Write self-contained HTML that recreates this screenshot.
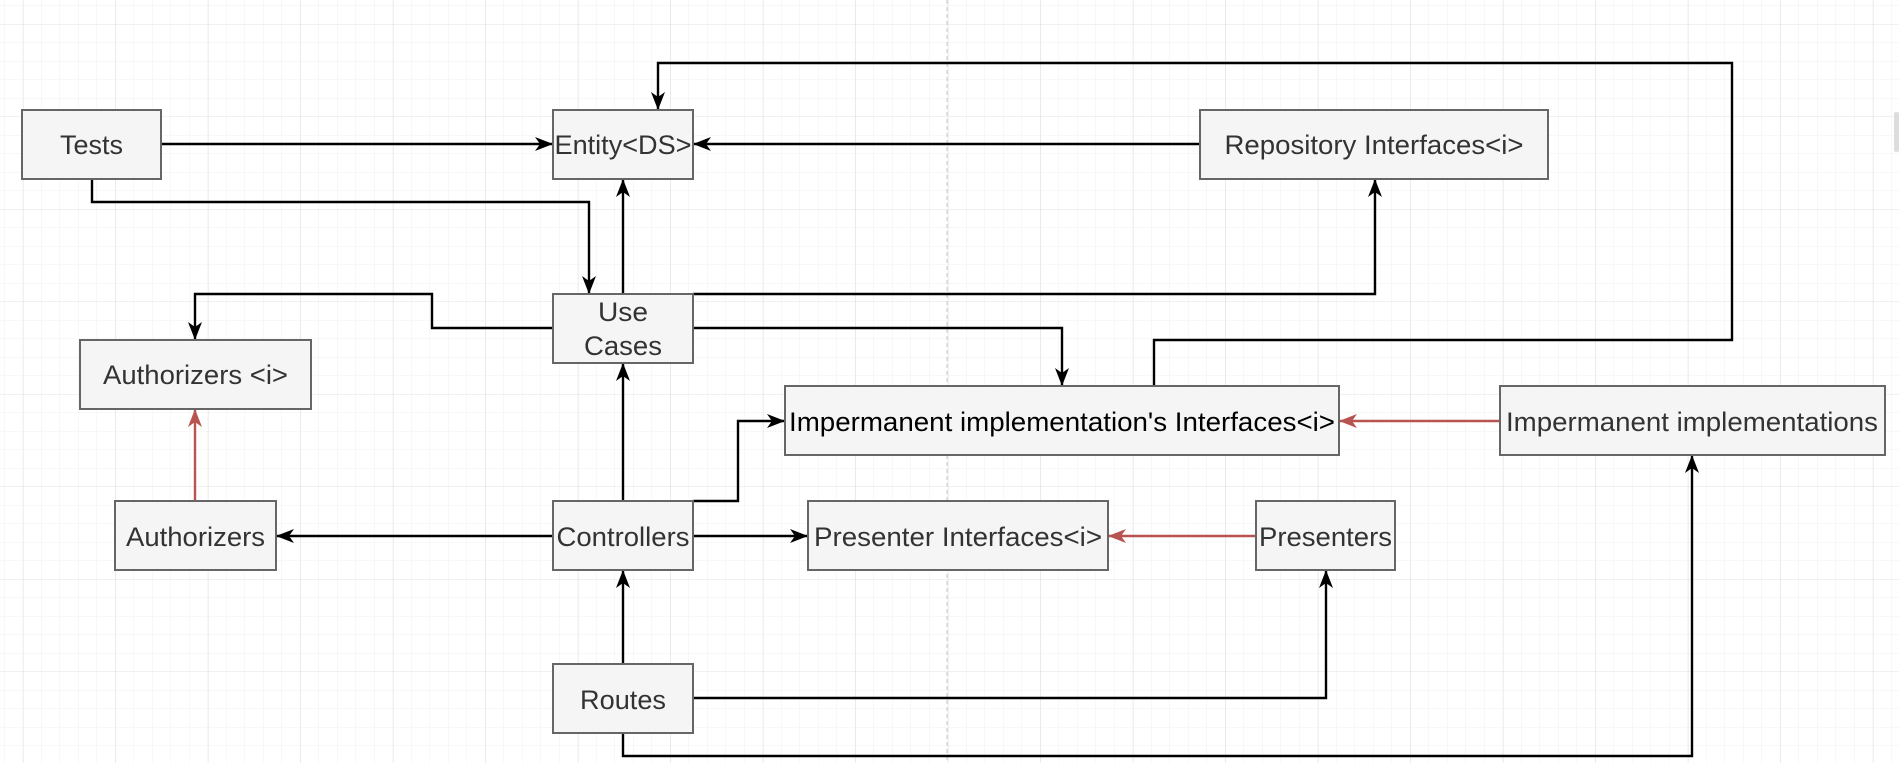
<!DOCTYPE html>
<html><head><meta charset="utf-8"><style>
html,body{margin:0;padding:0;background:#fff;}
svg{display:block;}
text{font-family:"Liberation Sans",Arial,sans-serif;font-size:27px;fill:#333;}
</style></head><body>
<svg width="1899" height="763" viewBox="0 0 1899 763" xmlns="http://www.w3.org/2000/svg">
<defs>
<pattern id="minor" width="18.5" height="18.5" patternUnits="userSpaceOnUse" x="4.5" y="6">
<path d="M18.5 0V18.5M0 18.5H18.5" stroke="#f0f0f0" stroke-width="1" fill="none"/>
</pattern>
<pattern id="major" width="92.5" height="92.5" patternUnits="userSpaceOnUse" x="23" y="24">
<path d="M0 0V92.5M0 0H92.5" stroke="#e3e3e3" stroke-width="1" fill="none"/>
</pattern>
<marker id="a" viewBox="0 0 18 14" refX="17" refY="7" markerWidth="18" markerHeight="14" markerUnits="userSpaceOnUse" orient="auto">
<path d="M0 0L18 7L0 14L5 7Z" fill="#000"/>
</marker>
<marker id="r" viewBox="0 0 18 14" refX="17" refY="7" markerWidth="18" markerHeight="14" markerUnits="userSpaceOnUse" orient="auto">
<path d="M0 0L18 7L0 14L5 7Z" fill="#b85450"/>
</marker>
</defs>
<rect width="1899" height="763" fill="url(#minor)"/>
<rect width="1899" height="763" fill="url(#major)"/>
<line x1="947" y1="0" x2="947" y2="763" stroke="#c8c8c8" stroke-dasharray="4 3"/>
<rect x="1894" y="112" width="5" height="40" rx="2" fill="#ddd"/>

<g fill="none" stroke="#000" stroke-width="2.4">
<path d="M161 144H552" marker-end="url(#a)"/>
<path d="M92 179V202H589V293" marker-end="url(#a)"/>
<path d="M623 294V180" marker-end="url(#a)"/>
<path d="M1200 144H694" marker-end="url(#a)"/>
<path d="M1154 386V340H1732V63H658V109" marker-end="url(#a)"/>
<path d="M693 294H1375V180" marker-end="url(#a)"/>
<path d="M693 328H1062V385" marker-end="url(#a)"/>
<path d="M553 328H432V294H195V339" marker-end="url(#a)"/>
<path d="M623 501V364" marker-end="url(#a)"/>
<path d="M553 536H277" marker-end="url(#a)"/>
<path d="M693 501H738V421H784" marker-end="url(#a)"/>
<path d="M693 536H807" marker-end="url(#a)"/>
<path d="M623 664V571" marker-end="url(#a)"/>
<path d="M693 698H1326V571" marker-end="url(#a)"/>
<path d="M623 733V756H1692V456" marker-end="url(#a)"/>
</g>
<g fill="none" stroke="#b85450" stroke-width="2.4">
<path d="M195 501V410" marker-end="url(#r)"/>
<path d="M1256 536H1109" marker-end="url(#r)"/>
<path d="M1500 421H1340" marker-end="url(#r)"/>
</g>

<g fill="#f5f5f5" stroke="#666" stroke-width="2">
<rect x="22" y="110" width="139" height="69"/>
<rect x="553" y="110" width="140" height="69"/>
<rect x="1200" y="110" width="348" height="69"/>
<rect x="553" y="294" width="140" height="69"/>
<rect x="80" y="340" width="231" height="69"/>
<rect x="785" y="386" width="554" height="69"/>
<rect x="1500" y="386" width="385" height="69"/>
<rect x="115" y="501" width="161" height="69"/>
<rect x="553" y="501" width="140" height="69"/>
<rect x="808" y="501" width="300" height="69"/>
<rect x="1256" y="501" width="139" height="69"/>
<rect x="553" y="664" width="140" height="69"/>
</g>
<g text-anchor="middle" lengthAdjust="spacingAndGlyphs">
<text x="91.5" y="154" textLength="63" lengthAdjust="spacingAndGlyphs">Tests</text>
<text x="623" y="154" textLength="137" lengthAdjust="spacingAndGlyphs">Entity&lt;DS&gt;</text>
<text x="1374" y="154" textLength="299" lengthAdjust="spacingAndGlyphs">Repository Interfaces&lt;i&gt;</text>
<text x="623" y="321" textLength="50" lengthAdjust="spacingAndGlyphs">Use</text>
<text x="623" y="355" textLength="78" lengthAdjust="spacingAndGlyphs">Cases</text>
<text x="195.5" y="384" textLength="185" lengthAdjust="spacingAndGlyphs">Authorizers &lt;i&gt;</text>
<text x="1062" y="431" style="fill:#000" textLength="546" lengthAdjust="spacingAndGlyphs">Impermanent implementation's Interfaces&lt;i&gt;</text>
<text x="1692" y="431" textLength="372" lengthAdjust="spacingAndGlyphs">Impermanent implementations</text>
<text x="195.5" y="546" textLength="139" lengthAdjust="spacingAndGlyphs">Authorizers</text>
<text x="623" y="546" textLength="133" lengthAdjust="spacingAndGlyphs">Controllers</text>
<text x="958" y="546" textLength="288" lengthAdjust="spacingAndGlyphs">Presenter Interfaces&lt;i&gt;</text>
<text x="1325.5" y="546" textLength="133" lengthAdjust="spacingAndGlyphs">Presenters</text>
<text x="623" y="709" textLength="86" lengthAdjust="spacingAndGlyphs">Routes</text>
</g>
</svg>
</body></html>
